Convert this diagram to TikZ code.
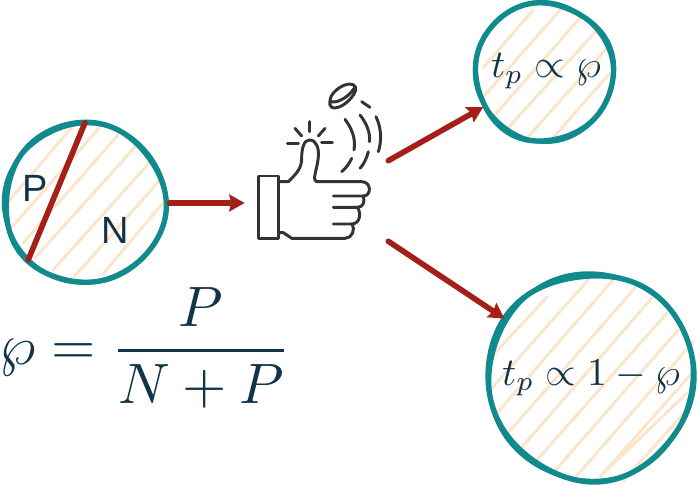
\documentclass[tikz,border=0pt]{standalone}
\usepackage{amsmath}
\usepackage{fontspec}
\setsansfont{Liberation Sans}
\definecolor{FlipTeal}{RGB}{16,138,140}
\definecolor{FlipRed}{RGB}{163,31,23}
\definecolor{FlipPeach}{RGB}{251,229,203}
\definecolor{FlipInk}{RGB}{18,52,72}
\definecolor{FlipGrey}{RGB}{51,51,51}
\usetikzlibrary{
    arrows.meta,
    positioning,
    calc,
}
\tikzset{
    blob/.style={circle, inner sep=0pt},
    hatch/.style={draw=FlipPeach, line width=2.1pt, line cap=round},
    rim/.style={draw=FlipTeal, line width=3.8pt, line join=round},
    rimthick/.style={draw=FlipTeal, line width=2.8pt, line join=round},
    flow/.style={draw=FlipRed, line width=4pt, line cap=round, -{Stealth[length=11pt, width=12pt, inset=1.5pt]}},
    cut/.style={draw=FlipRed, line width=4pt, line cap=round},
    icon/.style={draw=FlipGrey, line width=2.1pt, line cap=round, line join=round},
    formula/.style={text=FlipInk, inner sep=0pt, scale=4.05},
    inside/.style={text=FlipInk, inner sep=0pt, scale=2.8},
    share/.style={text=FlipInk, inner sep=0pt, font=\sffamily, scale=2.7},
}
% wobbly rim: centre x, centre y, radius, phase
\newcommand{\wobblerim}[4]{
    \draw[rim] plot[smooth cycle, samples=48, domain=0:352.5, variable=\t]
        ({#1+#3*(1+0.014*sin(3*\t+#4)+0.008*sin(5*\t+2*#4))*cos(\t)},
         {#2+#3*(1+0.014*sin(3*\t+#4)+0.008*sin(5*\t+2*#4))*sin(\t)});
    \draw[rimthick] plot[smooth cycle, samples=48, domain=0:352.5, variable=\t]
        ({#1+#3*(1+0.012*sin(2*\t+3*#4)+0.009*sin(4*\t+#4))*cos(\t)},
         {#2+#3*(1+0.012*sin(2*\t+3*#4)+0.009*sin(4*\t+#4))*sin(\t)});
}
\begin{document}
\begin{tikzpicture}[x=0.025cm, y=-0.025cm]
    \useasboundingbox (0,0) rectangle (698,485);
    % hatching
    \foreach \xa/\ya/\xb/\yb in {8/202/72/127, 12/227/100/127, 23/243/118/135, 35/258/135/147, 53/270/150/162, 74/277/160/180, 102/275/163/203,
        483/68/533/10, 485/95/562/8, 495/115/580/18, 508/128/597/30, 528/137/607/48, 553/138/610/73,
        493/355/547/297, 492/388/590/278, 497/413/613/280, 508/433/635/288, 522/447/652/298, 537/460/667/313, 553/473/678/330, 575/478/693/342, 600/477/692/373, 607/470/687/393, 623/481/687/410} {
        \draw[hatch] (\xa,\ya) -- (\xb,\yb);
    }
    \node[blob, minimum size=4.0cm] (source) at (85,203) {};
    \node[blob, minimum size=3.5cm] (upper) at (544,72) {};
    \node[blob, minimum size=5.2cm] (lower) at (591,377) {};
    \node[minimum width=3.575cm, minimum height=2cm, inner sep=0pt] (hand) at (316.5,201) {};
    \wobblerim{85}{203}{80}{40}
    \wobblerim{544}{72}{69}{110}
    \wobblerim{591}{377}{103}{200}
    % thumb and coin
    \begin{scope}[shift={(250,70)}, x=0.00833cm, y=-0.00833cm]
        \draw[icon] (25,318) rectangle (85,505);
        \draw[icon] (85,335) -- (115,335) .. controls (140,310) and (155,295) .. (155,265) .. controls (155,235) and (162,210) .. (178,210) .. controls (200,210) and (207,235) .. (205,260) .. controls (203,290) and (190,320) .. (195,330) -- (200,335) -- (335,335) .. controls (365,335) and (365,378) .. (340,378) -- (250,378);
        \draw[icon] (340,378) .. controls (345,395) and (340,412) .. (322,412) -- (250,412);
        \draw[icon] (322,412) .. controls (335,430) and (330,462) .. (305,462) -- (250,462);
        \draw[icon] (305,462) .. controls (318,480) and (305,505) .. (285,505) -- (125,505) -- (100,488) -- (85,488);
        \foreach \xa/\ya/\xb/\yb in {178/155/178/185, 135/175/155/198, 225/175/205/198, 112/220/145/220, 215/218/247/218, 335/95/360/112} {
            \draw[icon] (\xa,\ya) -- (\xb,\yb);
        }
        \draw[icon] (378,140) .. controls (395,175) and (395,215) .. (385,245);
        \draw[icon] (330,135) .. controls (350,160) and (362,190) .. (358,215);
        \draw[icon] (355,245) .. controls (350,265) and (342,282) .. (330,295);
        \draw[icon] (285,148) .. controls (305,175) and (318,205) .. (312,240);
        \draw[icon] (305,265) .. controls (298,280) and (288,295) .. (275,305);
        \draw[icon] (240,92) .. controls (240,70) and (275,42) .. (300,42) .. controls (318,42) and (322,58) .. (312,72) .. controls (295,100) and (262,120) .. (245,112) .. controls (238,108) and (238,98) .. (240,92) .. controls (250,105) and (295,85) .. (312,55);
    \end{scope}
    \draw[cut] (source.90) -- (source.225);
    \draw[flow, shorten <=3pt] (source.east) -- (hand.west |- source.east);
    \draw[flow] (hand.north east) -- (upper.210);
    \draw[flow] (hand.south east) -- (lower.146);
    % labels
    \node[share] (partp) at (35,188) {P};
    \node[share] (partn) at (115,230) {N};
    \node[formula] (ratio) at (145,348) {$\wp = \genfrac{}{}{0.5pt}{0}{P}{N+P}$};
    \node[inside] (uppertext) at (546,71) {$t_p \propto \wp$};
    \node[inside] (lowertext) at (591,378) {$t_p \propto 1 - \wp$};
\end{tikzpicture}
\end{document}
